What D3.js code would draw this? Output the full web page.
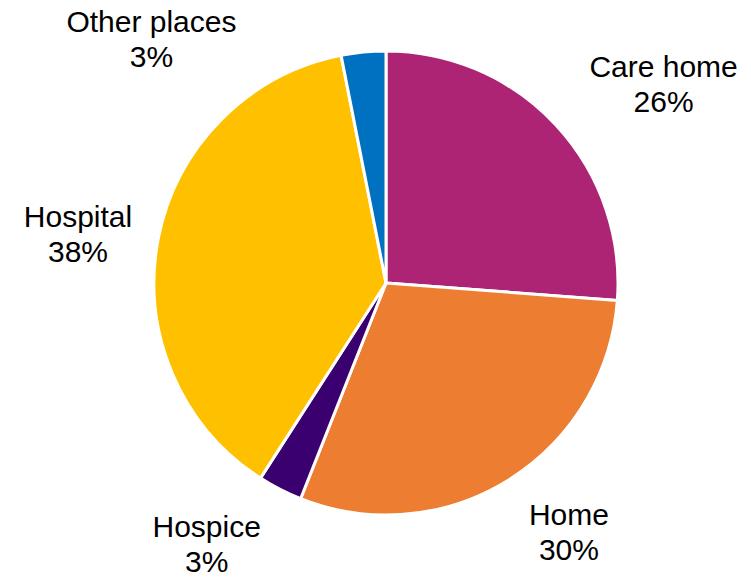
<!DOCTYPE html>
<html>
<head>
<meta charset="utf-8">
<script src="https://cdn.jsdelivr.net/npm/d3@7"></script>
<style>
  html, body { margin: 0; padding: 0; background: #fff; }
  svg text { font-family: "Liberation Sans", Arial, sans-serif; fill: #000; }
</style>
</head>
<body>
<svg id="chart" width="751" height="580"></svg>
<script>
// place of death, share of deaths (%)
const categories = ['Care home', 'Home', 'Hospice', 'Hospital', 'Other places'];
const shares = [26.2, 29.8, 3.1, 37.8, 3.1];
const labels = ['26%', '30%', '3%', '38%', '3%'];
const colours = ['#AC2473', '#ED7D31', '#3A006F', '#FFC000', '#0070C0'];

const width = 751, height = 580;
const cx = 386, cy = 283, radius = 232;

// label placement tweaks (degrees off slice middle, radius), like Excel's best fit
const labelPos = {
    'Care home': { dAngle: 7.1, r: 342 },
    'Home': { dAngle: -4.4, r: 308 },
    'Hospice': { dAngle: 7.4, r: 316 },
    'Hospital': { dAngle: -1.6, r: 312 },
    'Other places': { dAngle: -38.2, r: 339 }
};

const svg = d3.select('#chart');
const g = svg.append('g').attr('transform', 'translate(' + cx + ',' + cy + ')');

const pie = d3.pie().sort(null).value(d => d.value);
const arc = d3.arc().innerRadius(0).outerRadius(radius);
const colour = d3.scaleOrdinal().domain(categories).range(colours);

const data = categories.map((c, i) => ({ name: c, value: shares[i], label: labels[i] }));
const arcs = pie(data);

g.selectAll('path.slice')
    .data(arcs)
    .enter().append('path')
    .attr('class', 'slice')
    .attr('d', arc)
    .attr('fill', d => colour(d.data.name))
    .attr('stroke', '#fff')
    .attr('stroke-width', 3)
    .attr('stroke-linejoin', 'round');

const lbl = g.selectAll('g.label')
    .data(arcs)
    .enter().append('g')
    .attr('class', 'label')
    .attr('transform', function (d) {
        const p = labelPos[d.data.name];
        const a = (d.startAngle + d.endAngle) / 2 + p.dAngle * Math.PI / 180;
        return 'translate(' + (Math.sin(a) * p.r) + ',' + (-Math.cos(a) * p.r) + ')';
    });

lbl.append('text')
    .attr('text-anchor', 'middle')
    .attr('font-size', 30)
    .attr('y', -6)
    .text(d => d.data.name);

lbl.append('text')
    .attr('text-anchor', 'middle')
    .attr('font-size', 30)
    .attr('y', 29)
    .text(d => d.data.label);
</script>
</body>
</html>
